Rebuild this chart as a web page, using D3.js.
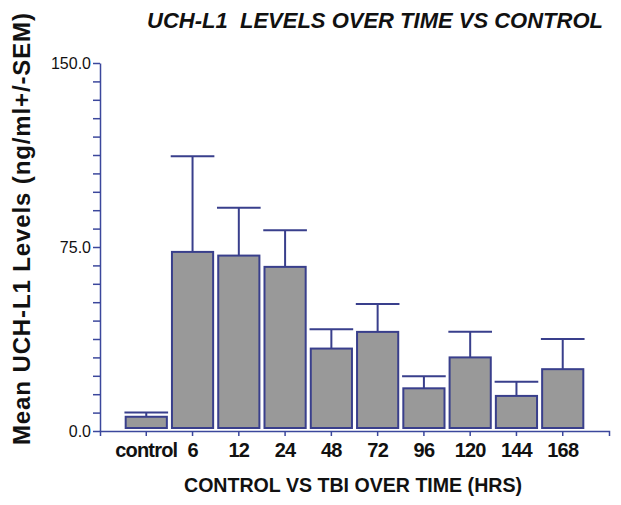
<!DOCTYPE html>
<html>
<head>
<meta charset="utf-8">
<script src="https://cdn.jsdelivr.net/npm/d3@7"></script>
<style>
  body { margin: 0; background: #fff; }
  text { font-family: "Liberation Sans", Arial, sans-serif; }
</style>
</head>
<body>
<div id="chart"></div>
<script>
// data
var categories = ["control", "6", "12", "24", "48", "72", "96", "120", "144", "168"];
var means = [5.8, 73.0, 71.5, 66.9, 33.6, 40.4, 17.4, 30.0, 14.3, 25.2];
var sems = [1.7, 39.0, 19.5, 14.9, 7.9, 11.4, 4.9, 10.5, 5.8, 12.3];
var yTicks = d3.range(0, 150.1, 7.5);
var yLabels = [0, 75, 150];

(function() {
    var width = 621,
        height = 505;

    var axisColor = "#3b479c",
        barStroke = "#393f8c",
        barFill = "#999999";

    var svg = d3.select("#chart")
        .append("svg")
        .attr("width", width)
        .attr("height", height);

    var data = categories.map(function(c, i) {
        return { cat: c, mean: means[i], sem: sems[i] };
    });

    var x = d3.scaleBand()
        .domain(categories)
        .range([100, 609])
        .paddingInner(0.11)
        .paddingOuter(0.555);

    var y = d3.scaleLinear()
        .domain([0, 150])
        .range([431, 63]);

    // bars (they float a few px above the axis in the original)
    svg.selectAll(".bar")
        .data(data)
        .enter().append("rect")
        .attr("class", "bar")
        .attr("x", function(d) { return x(d.cat); })
        .attr("width", x.bandwidth())
        .attr("y", function(d) { return y(d.mean); })
        .attr("height", function(d) { return y(0) - 3 - y(d.mean); })
        .attr("fill", barFill)
        .attr("stroke", barStroke)
        .attr("stroke-width", 2);

    // upper error bars
    var capW = x.bandwidth() * 1.06;
    var err = svg.selectAll(".err")
        .data(data)
        .enter().append("g")
        .attr("class", "err")
        .attr("stroke", barStroke)
        .attr("stroke-width", 2);

    err.append("line")
        .attr("x1", function(d) { return x(d.cat) + x.bandwidth() / 2; })
        .attr("x2", function(d) { return x(d.cat) + x.bandwidth() / 2; })
        .attr("y1", function(d) { return y(d.mean); })
        .attr("y2", function(d) { return y(d.mean + d.sem); });

    err.append("line")
        .attr("x1", function(d) { return x(d.cat) + x.bandwidth() / 2 - capW / 2; })
        .attr("x2", function(d) { return x(d.cat) + x.bandwidth() / 2 + capW / 2; })
        .attr("y1", function(d) { return y(d.mean + d.sem); })
        .attr("y2", function(d) { return y(d.mean + d.sem); });

    // y axis
    var yAxis = svg.append("g")
        .attr("transform", "translate(100,0)")
        .call(d3.axisLeft(y)
            .tickValues(yTicks)
            .tickSize(7)
            .tickSizeOuter(0)
            .tickPadding(2)
            .tickFormat(function(d) {
                return yLabels.indexOf(d) >= 0 ? d3.format(".1f")(d) : "";
            }));

    yAxis.selectAll("path, line")
        .attr("stroke", axisColor)
        .attr("stroke-width", 1.5);
    yAxis.selectAll("text")
        .attr("fill", "#111")
        .style("font-size", "16px");

    // x axis
    var xAxis = svg.append("g")
        .attr("transform", "translate(0," + y(0) + ")")
        .call(d3.axisBottom(x)
            .tickSize(5)
            .tickSizeOuter(5));

    xAxis.selectAll("path, line")
        .attr("stroke", axisColor)
        .attr("stroke-width", 1.5);
    xAxis.selectAll("text")
        .attr("y", 26)
        .attr("dy", 0)
        .attr("fill", "#111")
        .style("font-size", "20px")
        .style("font-weight", "bold")
        .style("letter-spacing", "-0.8px");

    // titles
    svg.append("text")
        .attr("x", 603)
        .attr("y", 28)
        .attr("text-anchor", "end")
        .style("font-size", "22px")
        .style("font-weight", "bold")
        .style("font-style", "italic")
        .style("white-space", "pre")
        .attr("fill", "#111")
        .text("UCH-L1  LEVELS OVER TIME VS CONTROL");

    svg.append("text")
        .attr("x", 353)
        .attr("y", 492)
        .attr("text-anchor", "middle")
        .attr("textLength", 338)
        .attr("lengthAdjust", "spacingAndGlyphs")
        .style("font-size", "20px")
        .style("font-weight", "bold")
        .attr("fill", "#111")
        .text("CONTROL VS TBI OVER TIME (HRS)");

    svg.append("text")
        .attr("transform", "translate(30,229) rotate(-90)")
        .attr("text-anchor", "middle")
        .attr("textLength", 432)
        .attr("lengthAdjust", "spacing")
        .style("font-size", "24px")
        .style("font-weight", "bold")
        .attr("fill", "#111")
        .text("Mean UCH-L1 Levels (ng/ml+/-SEM)");
})();
</script>
</body>
</html>
